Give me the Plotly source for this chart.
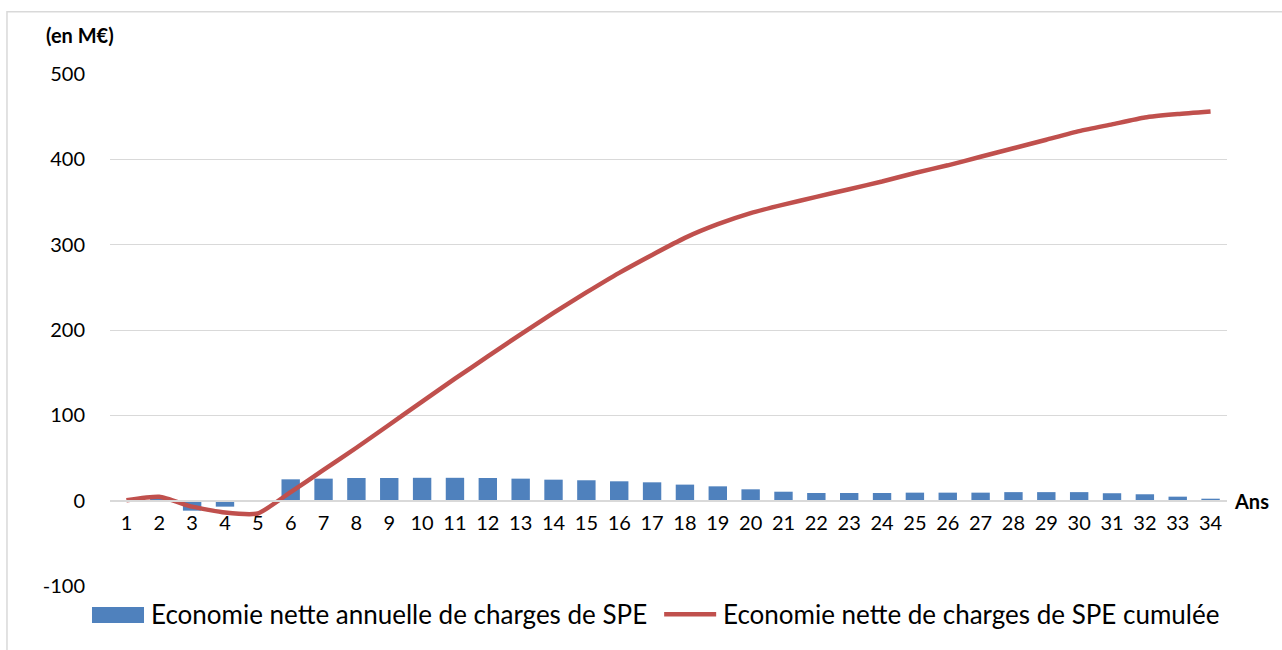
import plotly.graph_objects as go

years = [str(i) for i in range(1, 35)]
annual = [0.5, 4, -11.7, -7, -0.8, 25, 25.8, 26.6, 26.6, 26.8, 26.8, 26.6, 25.8, 24.6,
          23.9, 22.7, 21.5, 18.8, 16.8, 13.3, 10.5, 9, 9, 9, 9.4, 9.4, 9.4, 10, 10, 10,
          8.7, 7.5, 4.7, 2.3]
cumul = [0.5, 4.5, -7, -14, -15, 10, 36, 62, 89, 116, 143, 169, 195, 220, 244, 267,
         288, 308, 324, 337, 347, 356, 365, 374, 384, 393, 403, 413, 423, 433, 441,
         449, 453, 456]
y_ticks = [-100, 0, 100, 200, 300, 400, 500]
y_tick_text = ["-100", "0", "100", "200", "300", "400", "500"]
name_bar = "Economie nette annuelle de charges de SPE"
name_line = "Economie nette de charges de SPE cumulée"

FONT = "Lato"
BAR_C, LINE_C, GRID_C = "#4f81bd", "#c0504d", "#d9d9d9"

fig = go.Figure()
fig.add_trace(go.Bar(x=years, y=annual, name=name_bar, marker_color=BAR_C,
                     marker_line_width=0, showlegend=False))
fig.add_trace(go.Scatter(x=years, y=cumul, name=name_line, mode="lines",
                         line=dict(color=LINE_C, width=4.5, shape="spline",
                                   smoothing=0.5),
                         showlegend=False))

W, H = 1282, 650
L, R, T, B = 110, 1226.7, 73.7, 585.7
pw, ph = R - L, B - T


def px(x):
    return (x - L) / pw


def py(y):
    return (B - y) / ph


LEG_Y = 614
shapes = [
    # outer chart border (continues beyond the right and bottom edges)
    dict(type="rect", xref="paper", yref="paper", x0=px(7), x1=px(1300),
         y0=py(700), y1=py(11.5), line=dict(color=GRID_C, width=1.5),
         fillcolor="rgba(0,0,0,0)", layer="below"),
    # legend swatches
    dict(type="rect", xref="paper", yref="paper", x0=px(92), x1=px(144),
         y0=py(622.7), y1=py(606.7), line=dict(width=0), fillcolor=BAR_C),
    dict(type="line", xref="paper", yref="paper", x0=px(664), x1=px(716),
         y0=py(LEG_Y), y1=py(LEG_Y), line=dict(color=LINE_C, width=4.5)),
]

annotations = [
    dict(text="<b>(en M€)</b>", xref="paper", yref="paper", x=px(44),
         y=py(35), xanchor="left", yanchor="middle", showarrow=False,
         font=dict(size=20)),
    dict(text="<b>Ans</b>", xref="paper", yref="y", x=px(1232), y=0,
         xanchor="left", yanchor="middle", showarrow=False, font=dict(size=20)),
    dict(text=name_bar, xref="paper", yref="paper", x=px(149), y=py(LEG_Y),
         xanchor="left", yanchor="middle", showarrow=False, font=dict(size=26)),
    dict(text=name_line, xref="paper", yref="paper", x=px(721), y=py(LEG_Y),
         xanchor="left", yanchor="middle", showarrow=False, font=dict(size=26)),
]

fig.update_layout(
    width=W, height=H,
    margin=dict(l=L, r=W - R, t=T, b=H - B, pad=0),
    paper_bgcolor="white", plot_bgcolor="white",
    font=dict(family=FONT, size=20, color="#000000"),
    bargap=0.44,
    showlegend=False,
    xaxis=dict(type="category", anchor="free", position=100 / 600,
               showgrid=False, showline=True, linecolor=GRID_C, linewidth=2,
               ticks="", tickfont=dict(size=20), ticklabelstandoff=4),
    yaxis=dict(range=[-100, 500], tickvals=y_ticks, ticktext=y_tick_text,
               showgrid=True, gridcolor=GRID_C, gridwidth=1, zeroline=False,
               showline=False, ticks="", tickfont=dict(size=20),
               ticklabelstandoff=24),
    shapes=shapes,
    annotations=annotations,
)
fig.write_html("out.html",
               config={"displayModeBar": False},
               post_script="document.body.style.margin='0';"
                           "document.body.style.overflow='hidden';")
